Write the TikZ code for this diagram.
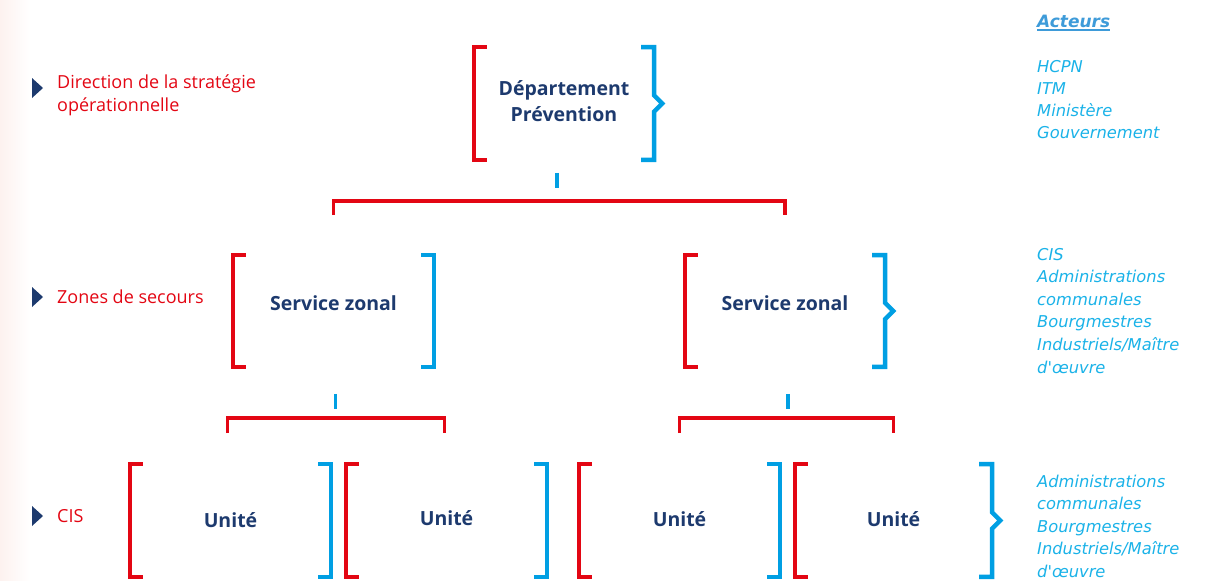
\documentclass[tikz,border=0pt]{standalone}
\usepackage{fontspec}
\setmainfont{Open Sans}
\newfontfamily\actfont{DejaVu Sans}
\usetikzlibrary{calc}
\definecolor{brred}{HTML}{E30613}
\definecolor{brblue}{HTML}{009FE3}
\definecolor{navy}{HTML}{1D3A6E}
\definecolor{actblue}{HTML}{1AB2E8}
\definecolor{acthead}{HTML}{3E9BD9}
\definecolor{pinkbg}{HTML}{FDF2EF}
\tikzset{
 box/.style={rectangle, inner sep=0pt, text=navy, font=\fontsize{19.5}{27}\selectfont\bfseries, align=center},
 redbr/.style={draw=brred, line width=4.5pt, line cap=butt, line join=miter},
 bluebr/.style={draw=brblue, line width=4.5pt, line cap=butt, line join=miter},
 tickc/.style={draw=brblue, line width=3.5pt},
 conn/.style={draw=brred, line width=3.5pt, line join=miter},
 level/.style={anchor=base west, text=brred, font=\fontsize{18}{23}\selectfont, align=left, inner sep=0pt},
 marker/.style={fill=navy},
 actors/.style={anchor=base west, text=actblue, align=left, inner sep=0pt},
}
\newcommand\BrL[1]{\draw[redbr] ([xshift=13pt]#1.north west) -- (#1.north west) -- (#1.south west) -- ([xshift=13pt]#1.south west);}
\newcommand\BrR[1]{\draw[bluebr] ([xshift=-13pt]#1.north east) -- (#1.north east) -- (#1.south east) -- ([xshift=-13pt]#1.south east);}
\newcommand\BrRN[1]{\draw[bluebr] ([xshift=-13pt]#1.north east) -- (#1.north east) -- ([yshift=8pt]#1.east) -- ([xshift=8pt]#1.east) -- ([yshift=-8pt]#1.east) -- (#1.south east) -- ([xshift=-13pt]#1.south east);}
\begin{document}
\begin{tikzpicture}[x=1pt,y=-1pt]
\useasboundingbox (0,0) rectangle (1221,581);
\shade[left color=pinkbg, right color=white] (0,0) rectangle (30,581);

% boxes
\node[box, minimum width=180pt, minimum height=112.5pt] (dep) at (564,103.5) {\raisebox{2pt}{\begin{tabular}{@{}c@{}}Département\\[-1pt]Prévention\end{tabular}}};
\node[box, minimum width=201pt, minimum height=111.5pt] (sz1) at (333.5,311) {\raisebox{16pt}{Service zonal}};
\node[box, minimum width=200pt, minimum height=111.5pt] (sz2) at (785,311) {\raisebox{16pt}{Service zonal}};
\node[box, minimum width=201pt, minimum height=112.5pt] (u1) at (230.5,520.5) {Unité};
\node[box, minimum width=201pt, minimum height=112.5pt] (u2) at (446.5,520.5) {\raisebox{4pt}{Unité}};
\node[box, minimum width=201pt, minimum height=112.5pt] (u3) at (679.5,520.5) {\raisebox{2pt}{Unité}};
\node[box, minimum width=197pt, minimum height=112.5pt] (u4) at (893.5,520.5) {\raisebox{2pt}{Unité}};

\BrL{dep}\BrRN{dep}
\BrL{sz1}\BrR{sz1}
\BrL{sz2}\BrRN{sz2}
\BrL{u1}\BrR{u1}
\BrL{u2}\BrR{u2}
\BrL{u3}\BrR{u3}
\BrL{u4}\BrRN{u4}

% connectors
\draw[tickc] ([xshift=-7pt,yshift=-13pt]dep.south) -- ++(0,15);
\draw[conn] ([yshift=40pt]sz1.north) -- ([yshift=54pt]sz1.north) -| ([yshift=40pt]sz2.north);
\draw[tickc] ([xshift=2pt,yshift=-27pt]sz1.south) -- ++(0,15);
\draw[tickc] ([xshift=3pt,yshift=-27pt]sz2.south) -- ++(0,15);
\draw[conn] ([xshift=-3pt,yshift=31pt]u1.north) -- ([xshift=-3pt,yshift=46pt]u1.north) -| ([xshift=-2pt,yshift=31pt]u2.north);
\draw[conn] ([yshift=31pt]u3.north) -- ([yshift=46pt]u3.north) -| ([yshift=31pt]u4.north);

% level labels
\fill[marker] (32,78) -- (43,88) -- (32,98) -- cycle;
\node[level] (lv1) at (57,111) {Direction de la stratégie\\opérationnelle};
\fill[marker] (32,287) -- (43,297) -- (32,307) -- cycle;
\node[level] (lv2) at (57,303.5) {Zones de secours};
\fill[marker] (32,506) -- (43,516) -- (32,526) -- cycle;
\node[level] (lv3) at (57,522.5) {CIS};

% actors
\node[actors, text=acthead, font=\actfont\bfseries\itshape\fontsize{17}{20}\selectfont] (act) at (1037,27) {Acteurs};
\draw[acthead, line width=1.3pt] ([yshift=-3pt]act.base west) -- ([yshift=-3pt]act.base east);
\node[actors, font=\actfont\itshape\fontsize{16.3}{21.7}\selectfont] (a1) at (1037,138) {HCPN\\ITM\\Ministère\\Gouvernement};
\node[actors, font=\actfont\itshape\fontsize{16.3}{22.6}\selectfont] (a2) at (1037,373) {CIS\\Administrations\\communales\\Bourgmestres\\Industriels/Maître\\d'œuvre};
\node[actors, font=\actfont\itshape\fontsize{16.3}{22.5}\selectfont] (a3) at (1037,577) {Administrations\\communales\\Bourgmestres\\Industriels/Maître\\d'œuvre};
\end{tikzpicture}
\end{document}
